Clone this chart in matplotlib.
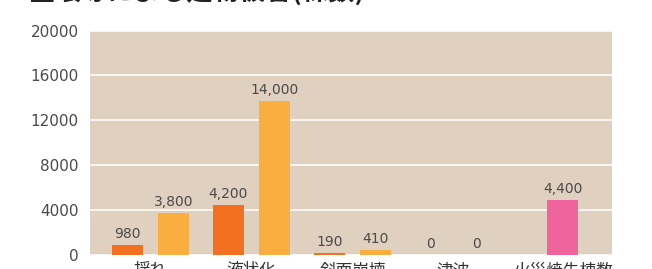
import numpy as np
import matplotlib
matplotlib.use("Agg")
import matplotlib.pyplot as plt

plt.rcParams['font.family'] = ['DejaVu Sans', 'Noto Sans CJK JP']

# data
categories = ["揺れ", "液状化", "斜面崩壊", "津波", "火災焼失棟数"]
damage_a = [890, 4440, 150, 0]          # dark orange bars
damage_b = [3760, 13690, 440, 0]        # light orange bars
labels_a = ["980", "4,200", "190", "0"]
labels_b = ["3,800", "14,000", "410", "0"]
fire = [4890]
fire_labels = ["4,400"]
y_ticks = [0, 4000, 8000, 12000, 16000, 20000]

fig = plt.figure(figsize=(6.52, 2.69), dpi=100)
ax = fig.add_axes([90/652, 14/269, 522/652, 224.5/269])
ax.set_facecolor("#e0d0bf")

x = np.arange(len(damage_a))
w = 0.31
off = 0.23
fire_x = np.array([4.08])

ax.bar(x - off, damage_a, w, color="#f37021", zorder=3)
ax.bar(x + off, damage_b, w, color="#fbae40", zorder=3)
ax.bar(fire_x, fire, w, color="#f0649e", zorder=3)

def put_labels(xs, vals, texts):
    for xi, v, t in zip(xs, vals, texts):
        ax.text(xi, v + 350, t, ha="center", va="bottom", fontsize=10,
                color="#4a4a4a", zorder=4)

put_labels(x - off, damage_a, labels_a)
put_labels(x + off, damage_b, labels_b)
put_labels(fire_x, fire, fire_labels)

ax.set_ylim(0, 20000)
ax.set_xlim(-0.60, 4.57)
ax.set_yticks(y_ticks)
ax.set_yticklabels([str(t) for t in y_ticks], fontsize=11, color="#4a4a4a")
ax.set_xticks(list(x) + list(fire_x))
ax.set_xticklabels(categories, fontsize=12, color="#333333",
                   family=['Noto Sans CJK JP'])
ax.tick_params(axis="both", length=0)
ax.tick_params(axis="y", pad=8)
ax.tick_params(axis="x", pad=5)
ax.yaxis.grid(True, color="white", linewidth=1.1, zorder=1)
ax.set_axisbelow(True)
for s in ax.spines.values():
    s.set_visible(False)

# title sits mostly above the visible area
fig.text(28/652, 1 - 0.5/269, "全壊等による建物被害(棟数)", fontsize=19,
         fontweight="bold", color="#222222", va="baseline",
         family=['Noto Sans CJK JP'])

fig.savefig("out.png", dpi=100)
